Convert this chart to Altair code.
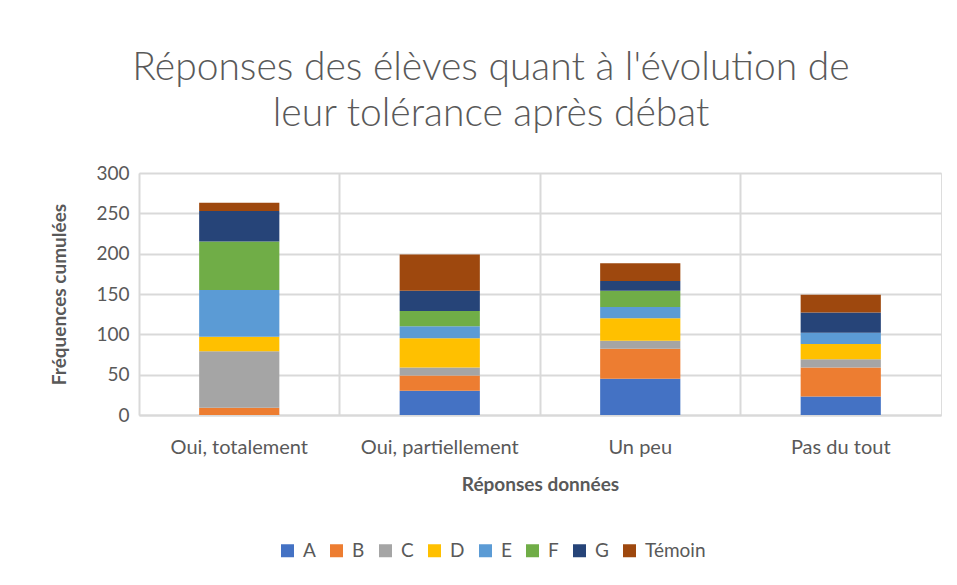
import altair as alt
import pandas as pd

categories = ["Oui, totalement", "Oui, partiellement", "Un peu", "Pas du tout"]
series = ["A", "B", "C", "D", "E", "F", "G", "Témoin"]
A = [0, 30, 45, 23]
B = [9, 19, 37, 36]
C = [70, 10, 10, 10]
D = [18, 36, 28, 19]
E = [58, 15, 14, 14]
F = [60, 19, 20, 0]
G = [38, 25, 12, 25]
T = [10, 45, 22, 22]
colors = ["#4472C4", "#ED7D31", "#A5A5A5", "#FFC000", "#5B9BD5", "#70AD47", "#264478", "#9E480E"]

values = [A, B, C, D, E, F, G, T]
rows = []
for si, (s, vals) in enumerate(zip(series, values)):
    for cat, v in zip(categories, vals):
        rows.append({"cat": cat, "serie": s, "val": v, "ord": si})
df = pd.DataFrame(rows)

FONT = "Lato"
TXT = "#595959"

bars = alt.Chart(df).mark_bar(width=alt.RelativeBandSize(0.4)).encode(
    x=alt.X("cat:N", sort=categories, title="Réponses données",
            scale=alt.Scale(paddingInner=0, paddingOuter=0),
            axis=alt.Axis(labelAngle=0, grid=True, bandPosition=0, ticks=False,
                          gridColor="#d9d9d9", gridWidth=2, domainColor="#d9d9d9", domainWidth=2,
                          labelFontSize=20, labelColor=TXT, labelFont=FONT, labelPadding=22,
                          titleFontSize=19, titleColor=TXT, titleFont=FONT, titleFontWeight="bold",
                          titlePadding=18)),
    y=alt.Y("val:Q", stack="zero", title="Fréquences cumulées",
            scale=alt.Scale(domain=[0, 300], nice=False),
            axis=alt.Axis(values=[0, 50, 100, 150, 200, 250, 300], grid=True, ticks=False, domain=False,
                          gridColor="#d9d9d9", gridWidth=2,
                          labelFontSize=19, labelColor=TXT, labelFont=FONT, labelPadding=10,
                          titleFontSize=19, titleColor=TXT, titleFont=FONT, titleFontWeight="bold",
                          titlePadding=26)),
    color=alt.Color("serie:N", scale=alt.Scale(domain=series, range=colors),
                    legend=alt.Legend(title=None, orient="none", direction="horizontal",
                                      legendX=139, legendY=368, symbolType="square",
                                      symbolSize=169, symbolStrokeWidth=0,
                                      labelFontSize=19, labelColor=TXT, labelFont=FONT,
                                      columnPadding=11, labelOffset=6)),
    order=alt.Order("ord:Q", sort="ascending"),
)

chart = bars.properties(
    width=802, height=242,
    title=alt.TitleParams(["Réponses des élèves quant à l'évolution de", "leur tolérance après débat"],
                          fontSize=39, font=FONT, fontWeight=300, color=TXT, anchor="middle",
                          dx=-49, offset=30, lineHeight=46),
    padding={"left": 131, "top": 165, "right": 8, "bottom": 162},
    autosize=alt.AutoSizeParams(type="none"),
).configure_view(stroke="#d9d9d9", strokeWidth=2, fill="#f0f0f0").configure(background="white")

chart.save("out.html", embed_options={"renderer": "svg", "actions": False})
